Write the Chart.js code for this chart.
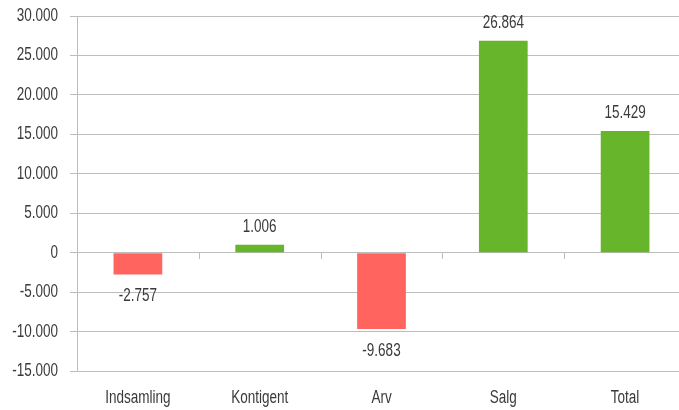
<!DOCTYPE html>
<html>
<head>
<meta charset="utf-8">
<script src="https://cdn.jsdelivr.net/npm/chart.js@4"></script>
<style>
html,body{margin:0;padding:0;background:#fff;overflow:hidden;}
#wrap{width:686px;height:410px;}
</style>
</head>
<body>
<div id="wrap"><canvas id="c" width="686" height="410"></canvas></div>
<script>
const categories = ["Indsamling", "Kontigent", "Arv", "Salg", "Total"];
const values = [-2757, 1006, -9683, 26864, 15429];
const yTicks = [-15000, -10000, -5000, 0, 5000, 10000, 15000, 20000, 25000, 30000];

const RED = "#FF645F";
const GREEN = "#66B52A";
const TEXT = "#3A3A3A";
const GRID = "#BDBDBD";
const FONT = "'Liberation Sans', Arial, sans-serif";
const FSIZE = 18;
const SX = 0.75;

function fmt(v){
  const neg = v < 0;
  let s = Math.abs(Math.round(v)).toString();
  s = s.replace(/\B(?=(\d{3})+(?!\d))/g, ".");
  return (neg ? "-" : "") + s;
}

function drawText(ctx, text, x, y, align){
  ctx.save();
  ctx.font = FSIZE + "px " + FONT;
  ctx.fillStyle = TEXT;
  ctx.textBaseline = "middle";
  ctx.textAlign = align;
  ctx.translate(x, y);
  ctx.scale(SX, 1);
  ctx.fillText(text, 0, 0);
  ctx.restore();
}

const textPlugin = {
  id: "condensedText",
  afterDatasetsDraw(chart){
    const ctx = chart.ctx;
    const xs = chart.scales.x, ys = chart.scales.y;
    const area = chart.chartArea;
    // y-axis tick labels
    yTicks.forEach(v => {
      drawText(ctx, fmt(v), area.left - 19, ys.getPixelForValue(v), "right");
    });
    // x-axis category labels
    categories.forEach((c, i) => {
      drawText(ctx, c, xs.getPixelForValue(i), area.bottom + 27, "center");
    });
    // value labels
    const meta = chart.getDatasetMeta(0);
    meta.data.forEach((bar, i) => {
      const v = values[i];
      const y = v >= 0 ? bar.y - 18 : bar.y + 22;
      drawText(ctx, fmt(v), bar.x, y, "center");
    });
    // tick marks on the zero line between categories
    const y0 = Math.round(ys.getPixelForValue(0));
    ctx.save();
    ctx.strokeStyle = GRID;
    ctx.lineWidth = 1;
    ctx.beginPath();
    for (let i = 1; i < categories.length; i++){
      const x = Math.round((xs.getPixelForValue(i - 1) + xs.getPixelForValue(i)) / 2) + 0.5;
      ctx.moveTo(x, y0);
      ctx.lineTo(x, y0 + 6);
    }
    ctx.stroke();
    ctx.restore();
  }
};

new Chart(document.getElementById("c"), {
  type: "bar",
  data: {
    labels: categories,
    datasets: [{
      data: values,
      backgroundColor: values.map(v => v < 0 ? RED : GREEN),
      borderWidth: 0,
      categoryPercentage: 1,
      barPercentage: 0.4
    }]
  },
  options: {
    responsive: false,
    animation: false,
    devicePixelRatio: 1,
    layout: { padding: { top: 16, right: 0, left: 0, bottom: 0 } },
    plugins: { legend: { display: false }, tooltip: { enabled: false } },
    scales: {
      x: {
        grid: { display: false },
        border: { display: false },
        ticks: { display: false },
        afterFit(s){ s.height = 39; }
      },
      y: {
        min: -15000, max: 30000,
        afterBuildTicks(s){ s.ticks = yTicks.map(v => ({ value: v })); },
        grid: { color: GRID, lineWidth: 1, tickLength: 7 },
        border: { display: true, color: GRID, width: 1 },
        ticks: { display: false },
        afterFit(s){ s.width = 77; }
      }
    }
  },
  plugins: [textPlugin]
});
</script>
</body>
</html>
